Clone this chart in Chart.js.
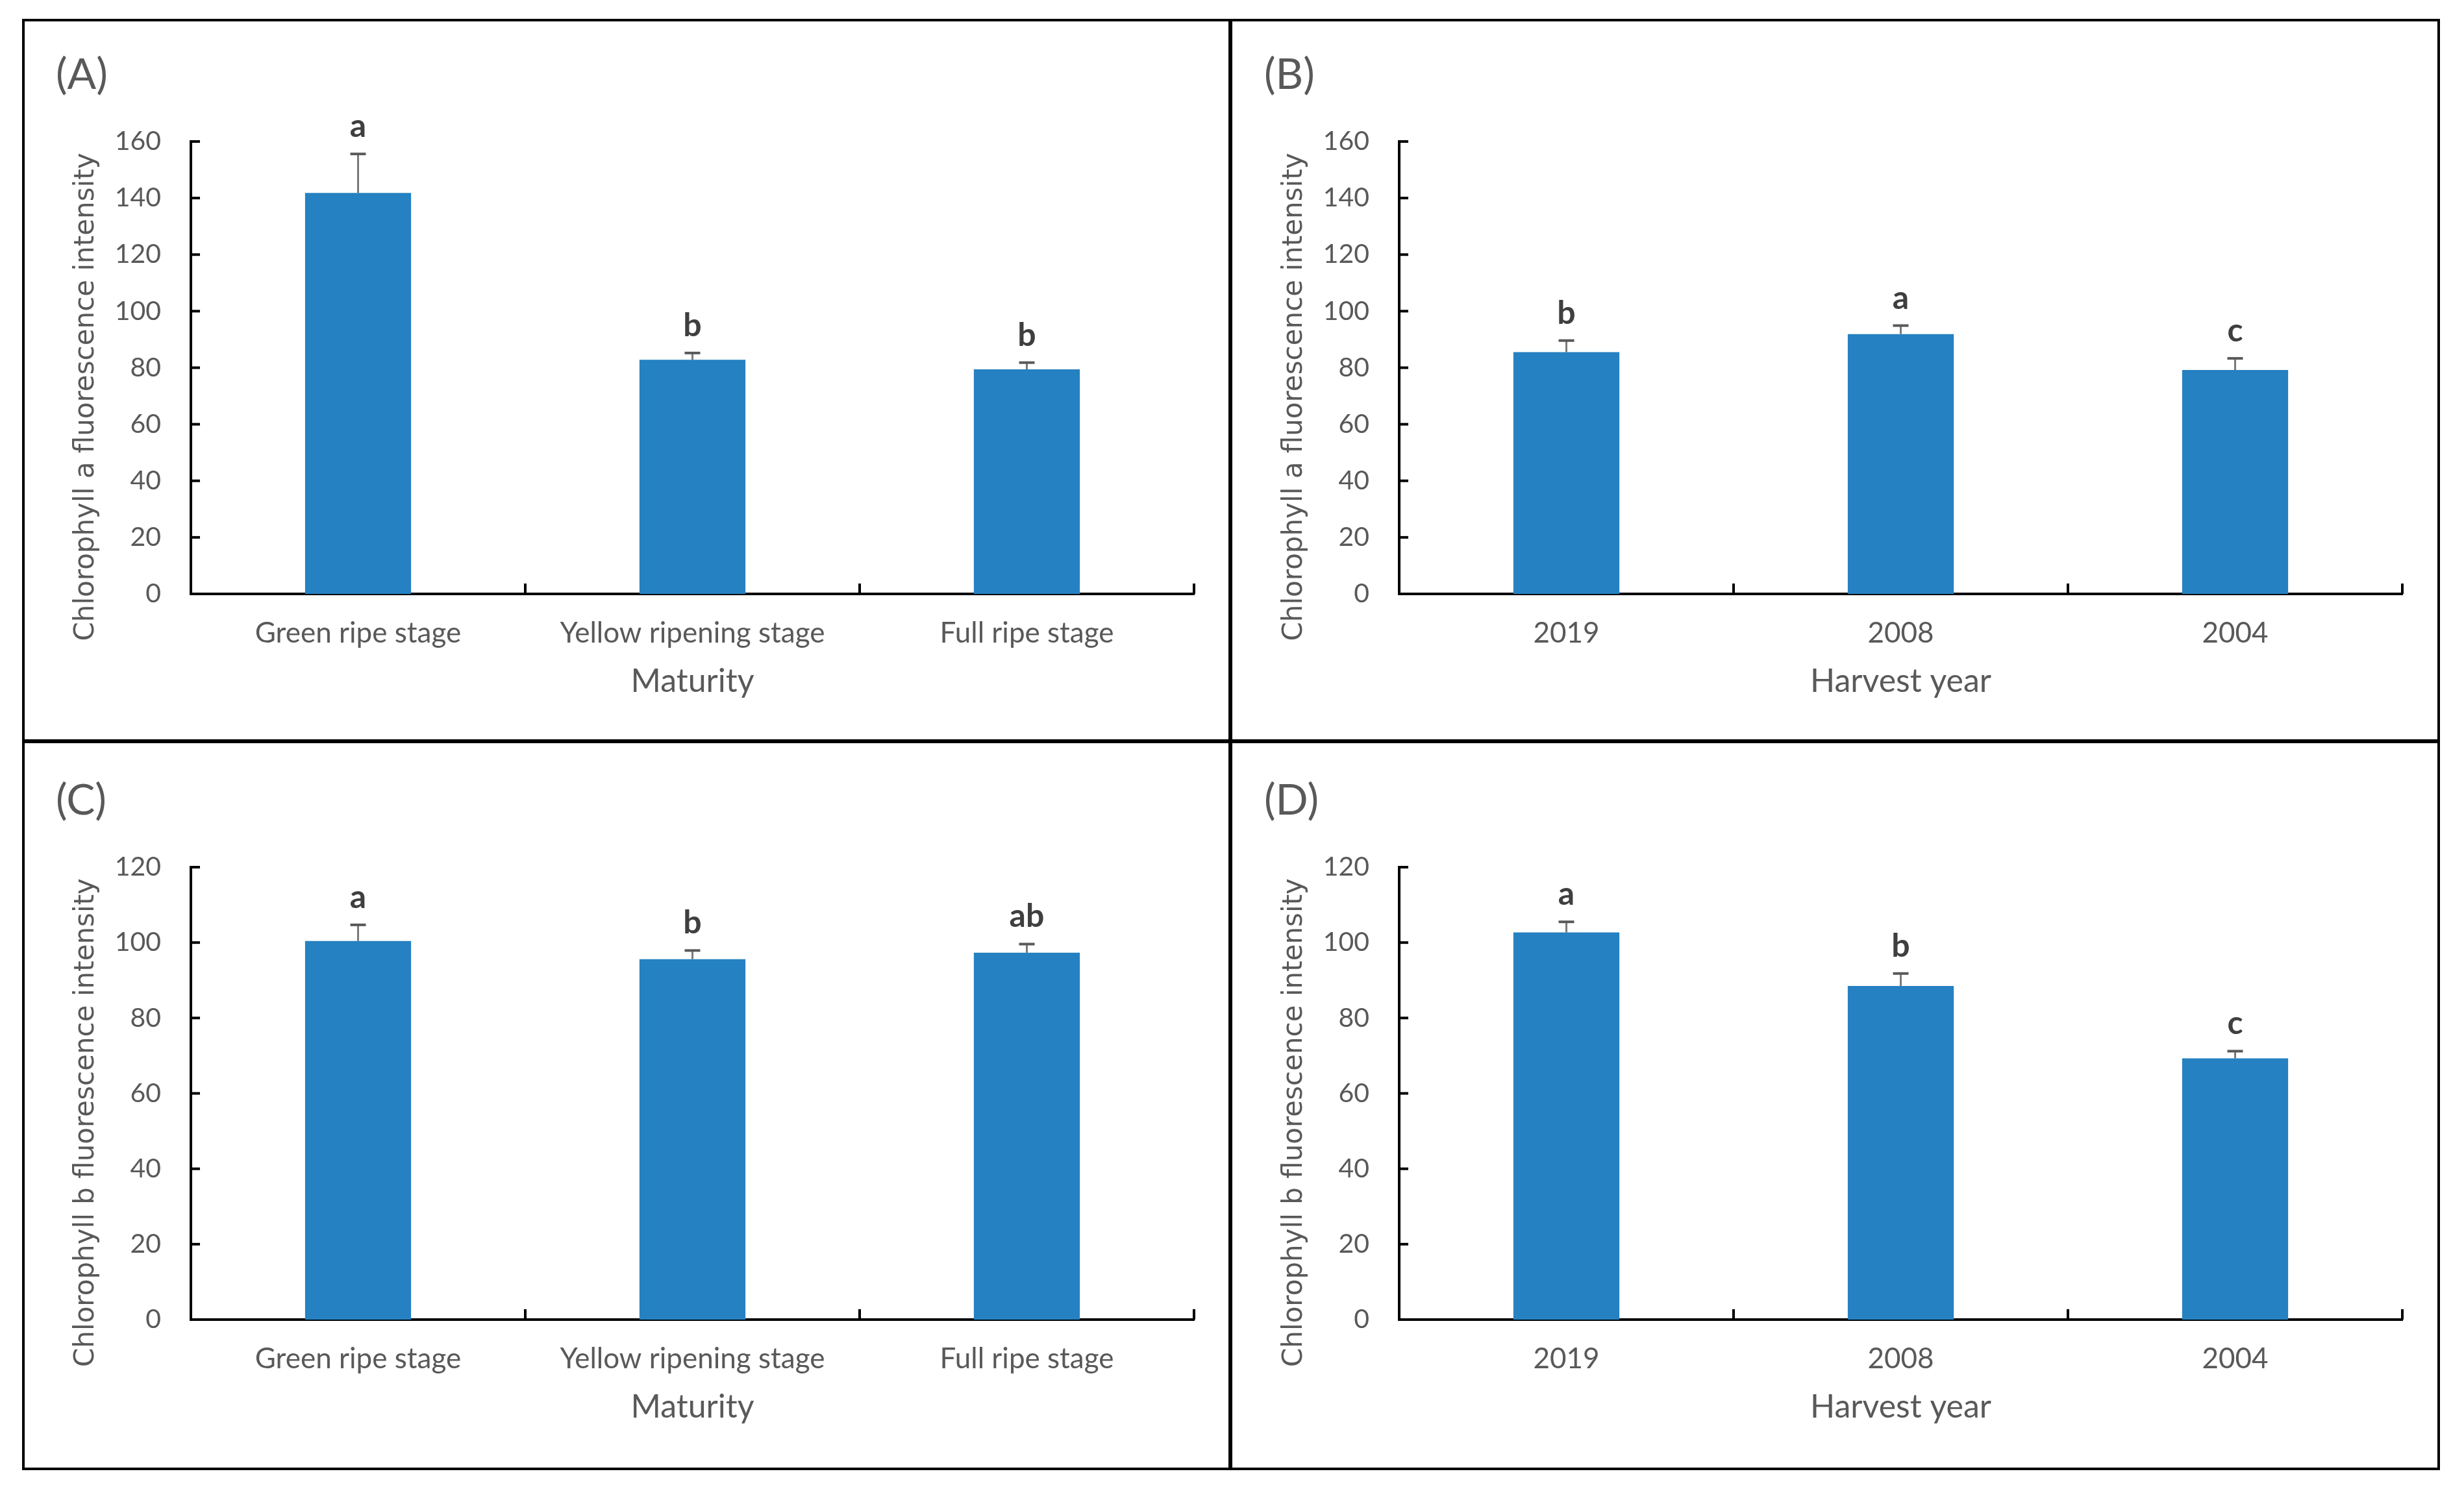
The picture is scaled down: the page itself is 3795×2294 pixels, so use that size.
<!DOCTYPE HTML>
<html>
<head>
  <script src="https://cdn.jsdelivr.net/npm/chart.js"></script>
  <style>
    body { margin: 0; background: #fff; }
    #page { position: relative; width: 3795px; height: 2294px; background: #fff; }
    canvas { position: absolute; }
    .line { position: absolute; background: #000; z-index: 5; }
  </style>
  <script>
    // categories
    const maturityLabels = ["Green ripe stage", "Yellow ripening stage", "Full ripe stage"];
    const yearLabels = ["2019", "2008", "2004"];

    // chlorophyll a
    const chlA_maturity = [141.8, 82.8, 79.4];
    const errA_maturity = [13.8, 2.4, 2.4];
    const sigA_maturity = ["a", "b", "b"];
    const chlA_year = [85.5, 91.9, 79.2];
    const errA_year = [4.1, 3.0, 4.1];
    const sigA_year = ["b", "a", "c"];

    // chlorophyll b
    const chlB_maturity = [100.4, 95.6, 97.3];
    const errB_maturity = [4.3, 2.3, 2.3];
    const sigB_maturity = ["a", "b", "ab"];
    const chlB_year = [102.7, 88.5, 69.3];
    const errB_year = [2.8, 3.3, 1.9];
    const sigB_year = ["a", "b", "c"];

    const textGrey = '#595959';
    const barBlue = '#2581c1';

    // error bars, significance letters, inside ticks, panel tag and y title
    const panelDecor = {
      id: 'panelDecor',
      afterDatasetsDraw(chart, args, opts) {
        const { ctx, chartArea, scales: { x, y } } = chart;
        const values = chart.data.datasets[0].data;
        ctx.save();

        chart.getDatasetMeta(0).data.forEach((bar, i) => {
          const top = y.getPixelForValue(values[i]);
          const cap = y.getPixelForValue(values[i] + opts.errors[i]);
          ctx.strokeStyle = '#7a7a7a';
          ctx.lineWidth = 3;
          ctx.beginPath();
          ctx.moveTo(bar.x, top);
          ctx.lineTo(bar.x, cap);
          ctx.stroke();
          ctx.strokeStyle = '#595959';
          ctx.lineWidth = 4;
          ctx.beginPath();
          ctx.moveTo(bar.x - 12, cap);
          ctx.lineTo(bar.x + 12, cap);
          ctx.stroke();

          ctx.fillStyle = '#3f3f3f';
          ctx.font = 'bold 50px Lato';
          ctx.textAlign = 'center';
          ctx.textBaseline = 'alphabetic';
          ctx.fillText(opts.letters[i], bar.x, cap - 26);
        });

        // ticks pointing into the plot
        ctx.strokeStyle = '#000';
        ctx.lineWidth = 4;
        y.ticks.forEach(t => {
          const py = y.getPixelForValue(t.value);
          ctx.beginPath();
          ctx.moveTo(chartArea.left, py);
          ctx.lineTo(chartArea.left + 14, py);
          ctx.stroke();
        });
        const n = chart.data.labels.length;
        for (let i = 1; i <= n; i++) {
          const px = i < n ? (x.getPixelForValue(i - 1) + x.getPixelForValue(i)) / 2 : chartArea.right;
          ctx.beginPath();
          ctx.moveTo(px, chartArea.bottom);
          ctx.lineTo(px, chartArea.bottom - 16);
          ctx.stroke();
        }

        // panel tag
        ctx.fillStyle = textGrey;
        ctx.font = '66px Lato';
        ctx.textAlign = 'left';
        ctx.textBaseline = 'alphabetic';
        ctx.fillText(opts.tag, 52, 108);

        // y title
        ctx.translate(99, chartArea.top + (chartArea.bottom - chartArea.top) / 2 + 45);
        ctx.rotate(-Math.PI / 2);
        ctx.font = '42px "DejaVu Sans"';
        ctx.textAlign = 'center';
        ctx.textBaseline = 'middle';
        ctx.fillText(opts.yTitle, 0, 0);
        ctx.restore();
      }
    };

    function makePanel(id, labels, values, errors, letters, tag, xTitle, yTitle, yMax) {
      const ctx = document.getElementById(id).getContext('2d');
      new Chart(ctx, {
        type: 'bar',
        data: {
          labels: labels,
          datasets: [{
            data: values,
            backgroundColor: barBlue,
            barPercentage: 0.317,
            categoryPercentage: 1.0
          }]
        },
        options: {
          responsive: false,
          animation: false,
          devicePixelRatio: 1,
          layout: { padding: { left: 0, right: 56, top: 189, bottom: 67 } },
          plugins: {
            legend: { display: false },
            tooltip: { enabled: false },
            panelDecor: { errors: errors, letters: letters, tag: tag, yTitle: yTitle }
          },
          scales: {
            x: {
              grid: { display: false, drawTicks: false },
              border: { display: true, color: '#000', width: 4 },
              ticks: { color: textGrey, font: { family: 'Lato', size: 44 }, padding: 34, maxRotation: 0 },
              title: { display: true, text: xTitle, color: textGrey, font: { family: 'Lato', size: 50 }, padding: { top: 0, bottom: 0 } },
              afterFit: (scale) => { scale.height = 165; }
            },
            y: {
              min: 0,
              max: yMax,
              grid: { display: false, drawTicks: false },
              border: { display: true, color: '#000', width: 4 },
              ticks: { stepSize: 20, color: textGrey, font: { family: 'Lato', size: 41 }, padding: 46 },
              afterFit: (scale) => { scale.width = 260; }
            }
          }
        },
        plugins: [panelDecor]
      });
    }

    window.onload = function() {
      makePanel('cA', maturityLabels, chlA_maturity, errA_maturity, sigA_maturity, '(A)', 'Maturity', 'Chlorophyll a fluorescence intensity', 160);
      makePanel('cB', yearLabels, chlA_year, errA_year, sigA_year, '(B)', 'Harvest year', 'Chlorophyll a fluorescence intensity', 160);
      makePanel('cC', maturityLabels, chlB_maturity, errB_maturity, sigB_maturity, '(C)', 'Maturity', 'Chlorophyll b fluorescence intensity', 120);
      makePanel('cD', yearLabels, chlB_year, errB_year, sigB_year, '(D)', 'Harvest year', 'Chlorophyll b fluorescence intensity', 120);
    }
  </script>
</head>
<body>
  <div id="page">
    <canvas id="cA" width="1861" height="1118" style="left:34px; top:29px;"></canvas>
    <canvas id="cB" width="1861" height="1118" style="left:1895px; top:29px;"></canvas>
    <canvas id="cC" width="1861" height="1118" style="left:34px; top:1147px;"></canvas>
    <canvas id="cD" width="1861" height="1118" style="left:1895px; top:1147px;"></canvas>
    <div class="line" style="left:34px; top:29px; width:3724px; height:4px;"></div>
    <div class="line" style="left:34px; top:2261px; width:3724px; height:4px;"></div>
    <div class="line" style="left:34px; top:29px; width:4px; height:2236px;"></div>
    <div class="line" style="left:3754px; top:29px; width:4px; height:2236px;"></div>
    <div class="line" style="left:1892px; top:29px; width:6px; height:2236px;"></div>
    <div class="line" style="left:34px; top:1139px; width:3724px; height:6px;"></div>
  </div>
</body>
</html>
